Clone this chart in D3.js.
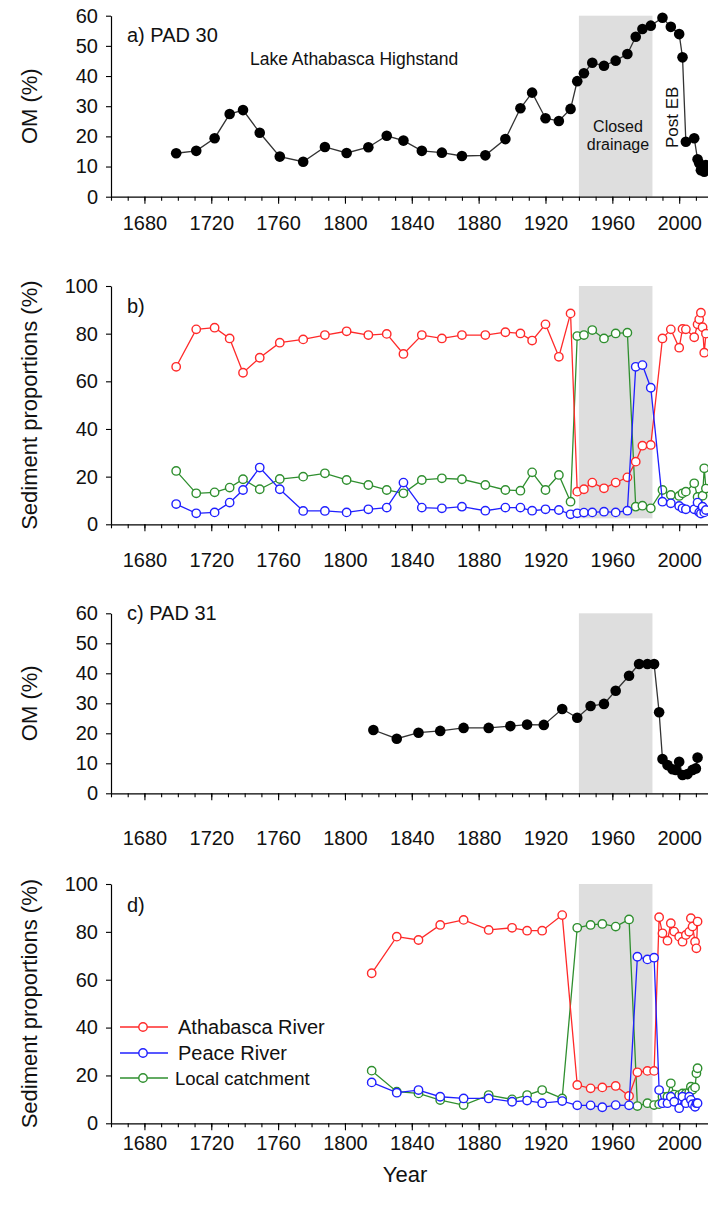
<!DOCTYPE html>
<html>
<head>
<meta charset="utf-8">
<script src="https://cdn.jsdelivr.net/npm/d3@7"></script>
<style>
  html, body { margin: 0; padding: 0; background: #fff; }
  svg { display: block; }
  text { font-family: "Liberation Sans", Arial, sans-serif; fill: #111; }
</style>
</head>
<body>
<svg id="chart" width="708" height="1216"></svg>
<script>
// ---------------- DATA ----------------
const yearsPAD30 = [1699,1711,1722,1731,1739,1749,1761,1775,1788,1801,1814,1825,1835,1846,1858,1870,1884,1896,1905,1912,1920,1928,1935,1939,1943,1948,1955,1962,1969,1974,1978,1983,1990,1995,2000,2002,2004,2009,2011,2012,2013,2014,2015,2016];
const omPAD30 = [14.4,15.2,19.4,27.4,28.7,21.2,13.3,11.6,16.5,14.5,16.4,20.2,18.6,15.2,14.6,13.5,13.7,19.1,29.3,34.5,26.0,25.1,29.1,38.3,40.9,44.4,43.4,45.1,47.3,53.0,55.6,56.7,59.3,56.3,53.9,46.2,18.2,19.4,12.4,11.1,8.8,9.9,8.3,10.5];
const athabascaPAD30 = [66.1,81.8,82.5,78.0,63.6,69.9,76.2,77.6,79.4,81.0,79.4,79.9,71.5,79.4,78.0,79.4,79.4,80.6,80.1,77.1,83.9,70.3,88.5,13.7,14.7,17.5,15.1,17.5,19.7,26.3,33.0,33.3,78.0,81.8,74.1,82.0,81.8,78.5,83.9,86.0,88.8,82.7,72.0,80.0];
const peacePAD30 = [8.5,4.6,5.0,9.1,14.4,23.8,14.7,5.6,5.6,5.0,6.3,7.0,17.5,7.0,6.7,7.4,5.7,7.0,7.0,5.7,6.3,6.0,4.2,4.6,4.9,5.0,5.3,5.0,5.7,66.1,66.8,57.3,9.5,8.8,7.7,6.7,6.3,6.3,9.1,5.0,4.5,7.4,5.0,6.0];
const localPAD30 = [22.4,13.0,13.4,15.4,18.9,14.7,19.0,20.0,21.4,18.6,16.5,14.4,13.0,18.6,19.3,18.9,16.5,14.4,14.1,21.8,14.4,20.7,9.5,79.0,79.4,81.5,78.0,80.1,80.4,7.4,7.8,6.7,14.4,12.3,11.9,13.0,13.7,17.2,11.5,8.0,6.5,12.0,23.5,15.0];

const yearsOM31 = [1817,1831,1844,1857,1871,1886,1899,1909,1919,1930,1939,1947,1955,1962,1970,1976,1981,1985,1988,1990,1993,1996,1998,2000,2002,2005,2008,2010,2011];
const omPAD31 = [21.1,18.2,20.2,20.8,21.8,21.8,22.4,22.9,22.8,28.1,25.2,29.1,29.8,34.2,39.2,43.1,43.1,43.1,27.0,11.4,9.4,8.0,7.8,10.5,6.1,6.4,7.8,8.3,11.9];

const yearsSed31 = [1816,1831,1844,1857,1871,1886,1900,1909,1918,1930,1939,1947,1954,1962,1970,1975,1981,1985,1988,1990,1993,1995,1997,2000,2002,2004,2006,2007,2008,2009.5,2010.3,2011];
const athabascaPAD31 = [62.7,78.0,76.6,82.9,85.0,80.8,81.7,80.5,80.5,87.0,16.0,14.6,15.0,15.6,11.4,21.3,21.9,21.9,86.1,79.4,76.3,83.6,80.1,78.0,75.9,78.7,80.0,85.7,82.2,75.9,73.1,84.3];
const peacePAD31 = [17.1,12.8,13.9,11.1,10.4,10.4,9.0,9.5,8.4,9.3,7.5,7.5,6.7,7.6,7.5,69.6,68.5,69.2,13.9,8.4,8.4,11.1,9.0,6.3,11.1,8.4,11.1,9.8,8.0,6.9,8.4,8.4];
const localPAD31 = [22.0,13.2,12.5,9.7,7.6,11.8,10.0,11.8,13.9,10.4,81.7,82.9,83.3,82.2,85.2,7.2,8.4,7.6,8.0,11.1,11.1,16.7,12.0,11.8,12.5,12.5,13.0,15.3,14.0,15.0,20.9,23.0];

const xMajorTicks = [1680,1720,1760,1800,1840,1880,1920,1960,2000];
const omTicks = [0,10,20,30,40,50,60];
const sedTicks = [0,20,40,60,80,100];
const closedDrainage = [1940, 1984];
const seriesNames = ["Athabasca River", "Peace River", "Local catchment"];
const seriesColors = ["#ff2a2a", "#2020ff", "#2f8f2f"];

// ---------------- DRAW ----------------
const svg = d3.select("#chart");
const x = d3.scaleLinear().domain([1660, 2020]).range([111, 712.6]);

const panels = [
  {type:"om", top:15.7, bottom:196.7, max:60, ticks:omTicks, label:"a) PAD 30", labelY:42, tickLabelY:230, ylab:"OM (%)",
   years:yearsPAD30, om:omPAD30},
  {type:"sed", top:286, bottom:524.3, max:100, ticks:sedTicks, label:"b)", labelY:313, tickLabelY:567, ylab:"Sediment proportions (%)",
   years:yearsPAD30, series:[athabascaPAD30, peacePAD30, localPAD30], shadeBottom:2.5},
  {type:"om", top:613.3, bottom:793.3, max:60, ticks:omTicks, label:"c) PAD 31", labelY:620, tickLabelY:845, ylab:"OM (%)",
   years:yearsOM31, om:omPAD31},
  {type:"sed", top:884, bottom:1123.3, max:100, ticks:sedTicks, label:"d)", labelY:912, tickLabelY:1150, ylab:"Sediment proportions (%)",
   years:yearsSed31, series:[athabascaPAD31, peacePAD31, localPAD31], shadeBottom:0, legend:true}
];

panels.forEach(p => {
  const y = d3.scaleLinear().domain([0, p.max]).range([p.bottom, p.top]);
  const g = svg.append("g");

  // shaded closed drainage period
  g.append("rect")
    .attr("x", x(closedDrainage[0]))
    .attr("width", x(closedDrainage[1]) - x(closedDrainage[0]))
    .attr("y", y(p.max))
    .attr("height", y(p.shadeBottom || 0) - y(p.max))
    .attr("fill", "#dedede");

  // y axis
  const ya = g.append("g").attr("transform", `translate(${x(1660)},0)`)
    .call(d3.axisLeft(y).tickValues(p.ticks).tickSize(5).tickPadding(8).tickSizeOuter(0));
  ya.select(".domain").attr("stroke", "#000").attr("stroke-width", 1.2);
  ya.selectAll(".tick line").attr("stroke", "#000").attr("stroke-width", 1.1);
  ya.selectAll(".tick text").style("font-size", "20px").attr("fill", "#111");

  // x axis minor
  const xm = g.append("g").attr("transform", `translate(0,${p.bottom})`)
    .call(d3.axisBottom(x).tickValues(d3.range(1660, 2021, 10)).tickSize(4).tickFormat("").tickSizeOuter(0));
  xm.select(".domain").attr("stroke", "#000").attr("stroke-width", 1.2);
  xm.selectAll(".tick line").attr("stroke", "#000").attr("stroke-width", 1.1);
  // x axis major
  const xa = g.append("g").attr("transform", `translate(0,${p.bottom})`)
    .call(d3.axisBottom(x).tickValues(xMajorTicks).tickSize(7).tickFormat(d3.format("d")).tickSizeOuter(0));
  xa.select(".domain").remove();
  xa.selectAll(".tick line").attr("stroke", "#000").attr("stroke-width", 1.1);
  xa.selectAll(".tick text").style("font-size", "20px").attr("fill", "#111")
    .attr("y", 0).attr("dy", 0).attr("transform", `translate(0,${p.tickLabelY - p.bottom})`);

  // panel label
  g.append("text").attr("x", 127).attr("y", p.labelY).style("font-size", "20px").text(p.label);

  // y label
  const cy = (p.top + p.bottom) / 2;
  g.append("text").attr("transform", `translate(37,${cy}) rotate(-90)`)
    .attr("text-anchor", "middle").style("font-size", "22px").text(p.ylab);

  if (p.type === "om") {
    const pts = p.years.map((yr, i) => [yr, p.om[i]]);
    g.append("path").datum(pts)
      .attr("d", d3.line().x(d => x(d[0])).y(d => y(d[1])))
      .attr("fill", "none").attr("stroke", "#333").attr("stroke-width", 1.3);
    g.selectAll("circle.om").data(pts).enter().append("circle")
      .attr("cx", d => x(d[0])).attr("cy", d => y(d[1])).attr("r", 5.3)
      .attr("fill", "#000");
  } else {
    const order = [2, 0, 1];
    order.forEach(si => {
      const pts = p.years.map((yr, i) => [yr, p.series[si][i]]);
      g.append("path").datum(pts)
        .attr("d", d3.line().x(d => x(d[0])).y(d => y(d[1])))
        .attr("fill", "none").attr("stroke", seriesColors[si]).attr("stroke-width", 1.3);
      g.selectAll(null).data(pts).enter().append("circle")
        .attr("cx", d => x(d[0])).attr("cy", d => y(d[1])).attr("r", 4.2)
        .attr("fill", "#fff").attr("stroke", seriesColors[si]).attr("stroke-width", 1.4);
    });
  }

  if (p.legend) {
    const ly = [1027, 1053, 1078];
    seriesNames.forEach((name, i) => {
      const lg = svg.append("g");
      lg.append("line").attr("x1", 120).attr("x2", 168).attr("y1", ly[i]).attr("y2", ly[i])
        .attr("stroke", seriesColors[i]).attr("stroke-width", 1.3);
      lg.append("circle").attr("cx", 143).attr("cy", ly[i]).attr("r", 4.2)
        .attr("fill", "#fff").attr("stroke", seriesColors[i]).attr("stroke-width", 1.4);
      lg.append("text").attr("x", i === 2 ? 175 : 178).attr("y", ly[i] + 7)
        .style("font-size", i === 2 ? "18.5px" : "20px").text(name);
    });
  }
});

// annotations in panel a
svg.append("text").attr("x", 250).attr("y", 65).style("font-size", "17.5px").attr("fill", "#2a1a1a").text("Lake Athabasca Highstand");
svg.append("text").attr("x", 618).attr("y", 132).attr("text-anchor", "middle").style("font-size", "16px").text("Closed");
svg.append("text").attr("x", 618).attr("y", 150).attr("text-anchor", "middle").style("font-size", "16px").text("drainage");
svg.append("text").attr("transform", "translate(678,148) rotate(-90)").style("font-size", "17px").text("Post EB");

// x axis title
svg.append("text").attr("x", 405).attr("y", 1182).attr("text-anchor", "middle").style("font-size", "22px").text("Year");
</script>
</body>
</html>
